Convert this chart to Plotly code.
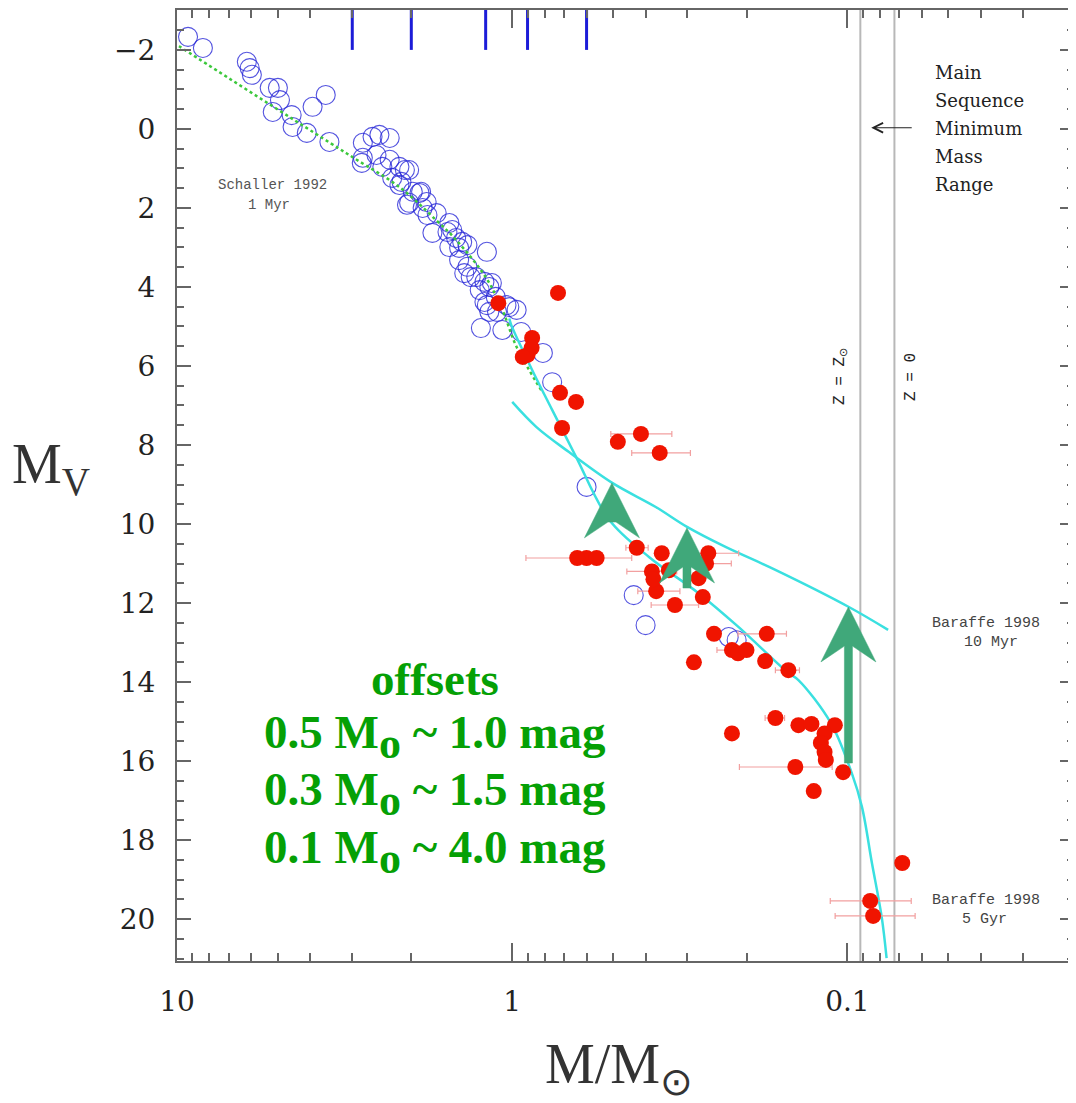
import numpy as np
import plotly.graph_objects as go

# ---------------- data ----------------
# open blue circles (mass [Msun], M_V)
blue_mass = [9.27, 8.37, 6.19, 6.07, 5.98, 5.29, 5.00, 4.93, 5.18, 4.55, 4.52, 4.10, 3.94, 3.60,
             3.51, 2.79, 2.49, 2.32, 2.79, 2.54, 2.32, 2.44, 2.17, 2.09, 2.28, 2.14, 1.98, 1.87,
             2.03, 1.80, 1.79, 1.54, 1.56, 1.73, 1.47, 1.41, 1.54, 1.44, 1.19, 1.44, 1.36, 1.39,
             1.28, 1.21, 1.25, 1.17, 1.12, 1.19, 1.04, 0.97, 2.61, 2.81, 1.24, 1.15, 1.17, 1.02,
             0.94, 0.81, 0.76, 0.60, 0.434, 0.40, 0.226, 0.214, 2.03, 2.17, 1.89, 2.06, 1.85,
             1.68, 1.51, 1.36, 1.33, 1.21, 1.11, 1.07]
blue_mv = [-2.33, -2.05, -1.70, -1.54, -1.37, -1.04, -1.04, -0.73, -0.43, -0.35, -0.05, 0.10, -0.56, -0.86,
           0.33, 0.35, 0.15, 0.23, 0.73, 0.66, 0.78, 0.96, 0.96, 1.04, 1.24, 1.34, 1.59, 1.59,
           1.87, 1.85, 2.18, 2.38, 2.61, 2.63, 2.76, 2.86, 2.99, 3.01, 3.11, 3.32, 3.49, 3.65,
           3.75, 3.87, 4.08, 4.00, 4.25, 4.46, 4.46, 4.58, 0.20, 0.86, 5.04, 3.90, 4.63, 4.51,
           5.14, 5.67, 6.41, 9.06, 11.80, 12.56, 12.86, 12.94, 1.04, 1.42, 1.62, 1.92, 2.00,
           2.13, 2.56, 2.94, 3.75, 4.38, 4.63, 5.09]

# filled red points without error bars
red_mass = [0.730, 1.10, 0.872, 0.875, 0.90, 0.93, 0.72, 0.645, 0.71, 0.484, 0.64, 0.56,
            0.358, 0.379, 0.341, 0.278, 0.27, 0.25, 0.212, 0.20, 0.287, 0.176, 0.14, 0.128,
            0.109, 0.117, 0.12, 0.117, 0.116, 0.221, 0.103, 0.126, 0.0686]
red_mv = [4.15, 4.41, 5.29, 5.54, 5.72, 5.77, 6.68, 6.91, 7.57, 7.92, 10.86, 10.86,
          10.74, 11.40, 11.17, 11.37, 11.85, 12.78, 13.27, 13.19, 13.50, 13.47, 15.09, 15.06,
          15.09, 15.30, 15.54, 15.77, 15.97, 15.30, 16.28, 16.76, 18.58]

# filled red points with horizontal error bars
rerr_mass = [0.413, 0.363, 0.60, 0.425, 0.26, 0.264, 0.383, 0.372, 0.327, 0.174, 0.221,
             0.150, 0.164, 0.143, 0.0855, 0.0838]
rerr_mv = [7.72, 8.20, 10.86, 10.60, 10.74, 11.00, 11.20, 11.70, 12.05, 12.78, 13.19,
           13.70, 14.91, 16.15, 19.54, 19.92]
rerr_plus = [0.095, 0.077, 0.31, 0.033, 0.05, 0.04, 0.072, 0.05, 0.058, 0.038, 0.024,
             0.014, 0.012, 0.067, 0.027, 0.025]
rerr_minus = [0.079, 0.069, 0.16, 0.032, 0.049, 0.042, 0.06, 0.056, 0.049, 0.022, 0.02,
              0.011, 0.010, 0.032, 0.021, 0.021]

# Schaller 1992, 1 Myr (green dotted)
sch_mass = [10.2, 9.8, 3.50, 2.91, 2.17, 1.69, 1.47, 1.20, 1.07, 0.97, 0.81]
sch_mv = [-2.18, -2.08, 0.35, 0.78, 1.47, 2.30, 2.81, 3.75, 4.58, 5.52, 6.68]

# Baraffe 1998, 5 Gyr (cyan)
b5_mass = [1.02, 1.007, 0.872, 0.76, 0.645, 0.513, 0.39, 0.278, 0.211, 0.150, 0.140,
           0.112, 0.0971, 0.0905, 0.0845, 0.0790, 0.0764]
b5_mv = [4.80, 4.96, 6.10, 7.11, 8.30, 9.90, 10.84, 11.75, 12.61, 13.77, 13.95,
         15.04, 16.30, 17.16, 18.58, 19.95, 20.99]

# Baraffe 1998, 10 Myr (cyan)
b10_mass = [1.0, 0.848, 0.677, 0.503, 0.373, 0.30, 0.231, 0.164, 0.099, 0.0756]
b10_mv = [6.91, 7.54, 8.18, 8.96, 9.57, 10.08, 10.58, 11.16, 12.10, 12.68]

# blue mass markers on top axis
top_tick_mass = [3.0, 2.0, 1.2, 0.9, 0.6]

# metallicity limits of minimum mass
z_mass = [0.0915, 0.0724]
z_labels = ["Z = Z<sub>⊙</sub>", "Z = 0"]

# offset arrows: mass, tip M_V, tail M_V
arrow_mass = [0.504, 0.301, 0.0993]
arrow_tip = [8.96, 10.10, 12.10]
arrow_tail = [9.95, 11.62, 16.05]

x_ticks = [10, 1, 0.1]
x_ticktext = ["10", "1", "0.1"]
y_ticks = list(range(-2, 21, 2))
y_ticktext = [("−" + str(-v)) if v < 0 else str(v) for v in y_ticks]

SUBO = "<sub><span style='font-size:44px'>o</span></sub>"
offset_lines = ["offsets",
                "0.5 M" + SUBO + " ~ 1.0 mag",
                "0.3 M" + SUBO + " ~ 1.5 mag",
                "0.1 M" + SUBO + " ~ 4.0 mag"]

# ---------------- figure ----------------
YMIN, YMAX = -3.01, 21.06
fig = go.Figure()

# vertical Z lines
for m in z_mass:
    fig.add_trace(go.Scatter(x=[m, m], y=[YMIN - 1, YMAX + 1], mode="lines",
                             line=dict(color="#b8b8b8", width=2), hoverinfo="skip"))

# top blue ticks
tx, ty = [], []
for m in top_tick_mass:
    tx += [m, m, None]
    ty += [YMIN - 0.5, -2.0, None]
fig.add_trace(go.Scatter(x=tx, y=ty, mode="lines", line=dict(color="#1c1cd8", width=3),
                         hoverinfo="skip"))

# blue circles
fig.add_trace(go.Scatter(x=blue_mass, y=blue_mv, mode="markers",
                         marker=dict(symbol="circle-open", size=19, color="rgba(40,40,215,0.8)",
                                     line=dict(width=1.1))))

# Schaller line
fig.add_trace(go.Scatter(x=sch_mass, y=sch_mv, mode="lines", line_shape="spline",
                         line=dict(color="#3cc83c", width=2.5, dash="dot")))

# Baraffe lines
fig.add_trace(go.Scatter(x=b5_mass, y=b5_mv, mode="lines", line_shape="spline",
                         line=dict(color="#3ae0e0", width=2.5)))
fig.add_trace(go.Scatter(x=b10_mass, y=b10_mv, mode="lines", line_shape="spline",
                         line=dict(color="#3ae0e0", width=2.5)))

# red points with error bars
fig.add_trace(go.Scatter(x=rerr_mass, y=rerr_mv, mode="markers",
                         marker=dict(size=16, color="#f01400"),
                         error_x=dict(type="data", symmetric=False, array=rerr_plus,
                                      arrayminus=rerr_minus, color="#f2a0a0",
                                      thickness=1.2, width=3)))
fig.add_trace(go.Scatter(x=red_mass, y=red_mv, mode="markers",
                         marker=dict(size=16, color="#f01400")))

# green arrows (polygon in log-mass / mag space)
HW, SW, HL, ND = 0.082, 0.012, 1.39, 0.99
for m, t, tail in zip(arrow_mass, arrow_tip, arrow_tail):
    lx = np.log10(m)
    px = [lx, lx - HW, lx - SW, lx - SW, lx + SW, lx + SW, lx + HW, lx]
    py = [t, t + HL, t + ND, tail, tail, t + ND, t + HL, t]
    fig.add_trace(go.Scatter(x=[10 ** v for v in px], y=py, mode="lines", fill="toself",
                             fillcolor="#40a87a", line=dict(color="#40a87a", width=0.5),
                             hoverinfo="skip"))

# ---------------- annotations ----------------
mono = "Liberation Mono"
ann = []
ann.append(dict(x=np.log10(5.2), y=1.42, text="Schaller 1992", showarrow=False,
                font=dict(family=mono, size=14, color="#555")))
ann.append(dict(x=np.log10(5.3), y=1.92, text="1 Myr", showarrow=False,
                font=dict(family=mono, size=14, color="#555")))
for i, s in enumerate(["Main", "Sequence", "Minimum", "Mass", "Range"]):
    ann.append(dict(x=-1.256, y=-1.42 + 0.705 * i, text=s, showarrow=False, xanchor="left",
                    font=dict(family="DejaVu Serif", size=18, color="#222")))
ann.append(dict(x=np.log10(0.0849), y=-0.03, ax=42, ay=0, text="", showarrow=True,
                arrowhead=5, arrowsize=1.6, arrowwidth=1.2, arrowcolor="#222"))
for m, lab, x in zip(z_mass, z_labels, [-0.979, -1.1875]):
    ann.append(dict(x=x, y=6.27, text=lab, showarrow=False, textangle=-90,
                    font=dict(family=mono, size=16, color="#222")))
ann.append(dict(x=-1.414, y=12.51, text="Baraffe 1998", showarrow=False,
                font=dict(family=mono, size=15, color="#444")))
ann.append(dict(x=-1.429, y=12.99, text="10 Myr", showarrow=False,
                font=dict(family=mono, size=15, color="#444")))
ann.append(dict(x=-1.414, y=19.52, text="Baraffe 1998", showarrow=False,
                font=dict(family=mono, size=15, color="#444")))
ann.append(dict(x=-1.408, y=20.0, text="5 Gyr", showarrow=False,
                font=dict(family=mono, size=15, color="#444")))
for s, y in zip(offset_lines, [13.92, 15.39, 16.84, 18.30]):
    ann.append(dict(x=0.229, y=y, text="<b>" + s + "</b>", showarrow=False,
                    font=dict(family="Liberation Serif", size=47, color="#05a005")))
# axis titles
ann.append(dict(xref="paper", yref="paper", x=-0.141, y=0.518, xanchor="center",
                yanchor="middle", text="M<sub>V</sub>",
                showarrow=False, font=dict(family="Liberation Serif", size=56, color="#333")))
ann.append(dict(xref="paper", yref="paper", x=0.493, y=-0.113, xanchor="center",
                yanchor="middle", text="M/M<sub>⊙</sub>",
                showarrow=False, font=dict(family="Liberation Serif", size=56, color="#333")))

x_minor = [v * d for d in (1, 0.1, 0.01) for v in range(2, 10)]
y_minor = [v / 2 for v in range(-6, 43) if v % 4 != 0]

fig.update_layout(
    width=1068, height=1095, showlegend=False,
    margin=dict(l=169, r=0, t=2, b=142),
    paper_bgcolor="white", plot_bgcolor="white",
    annotations=ann,
    xaxis=dict(type="log", range=[1, -1.676], showgrid=False, zeroline=False,
               showline=True, linecolor="#666", linewidth=2, mirror="allticks",
               tickmode="array", tickvals=x_ticks, ticktext=x_ticktext,
               ticks="inside", ticklen=18, tickwidth=1.5, tickcolor="#666",
               ticklabelstandoff=14,
               tickfont=dict(family="DejaVu Serif", size=28, color="#222"),
               minor=dict(tickmode="array", tickvals=x_minor, ticks="inside", ticklen=8,
                          tickwidth=1.5, tickcolor="#666", showgrid=False)),
    yaxis=dict(range=[YMAX, YMIN], showgrid=False, zeroline=False,
               showline=True, linecolor="#666", linewidth=2, mirror="allticks",
               tickmode="array", tickvals=y_ticks, ticktext=y_ticktext,
               ticks="inside", ticklen=14, tickwidth=1.5, tickcolor="#666",
               ticklabelstandoff=14,
               tickfont=dict(family="DejaVu Serif", size=28, color="#222"),
               minor=dict(tickmode="array", tickvals=y_minor, ticks="inside", ticklen=7,
                          tickwidth=1.5, tickcolor="#666", showgrid=False)),
)

fig.write_html("out.html")
